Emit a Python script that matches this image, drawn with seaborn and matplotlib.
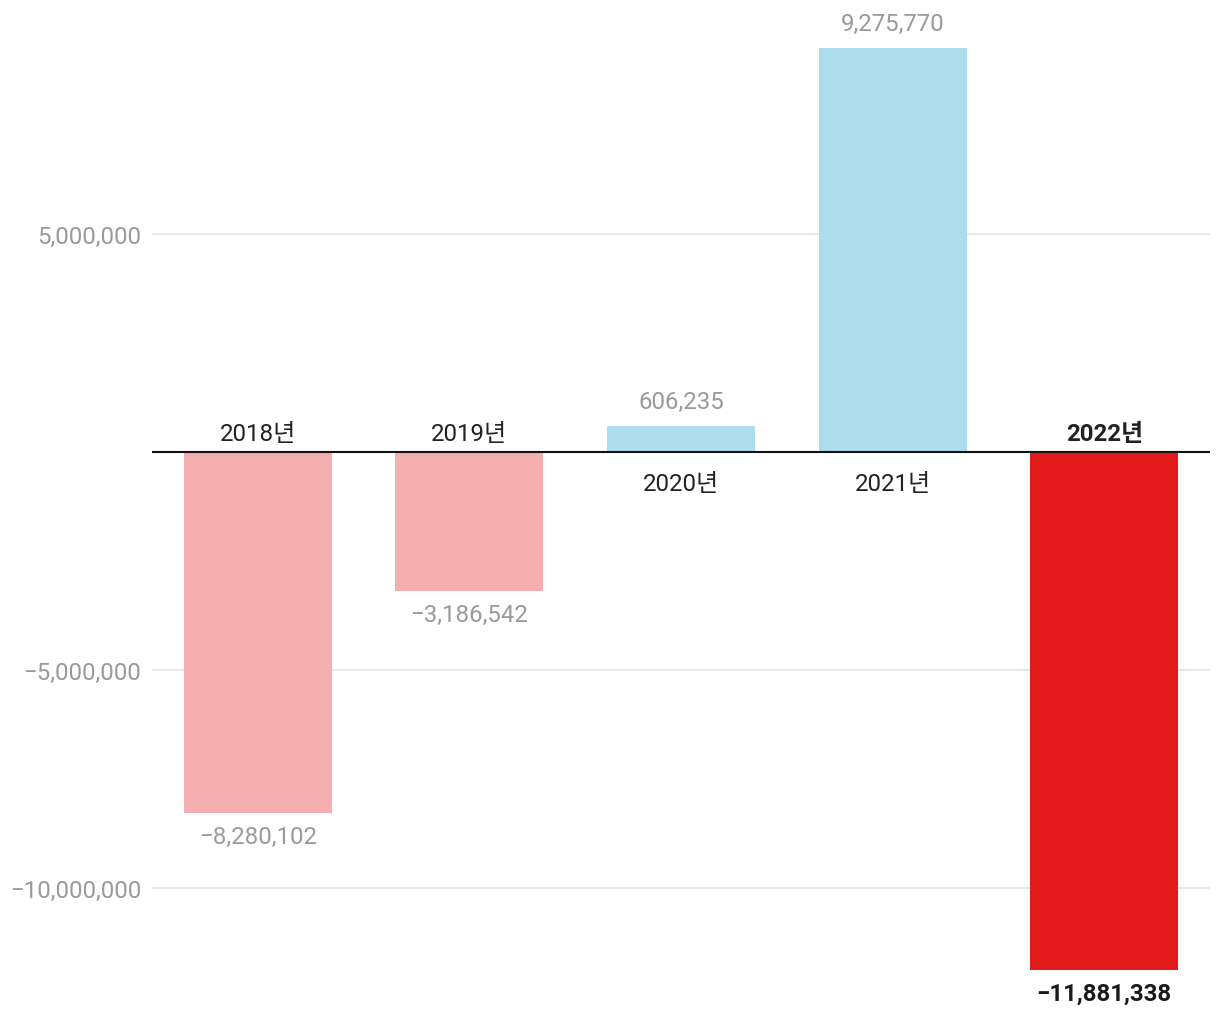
import matplotlib
matplotlib.use('Agg')
import matplotlib.pyplot as plt
import seaborn as sns
import pandas as pd

# data
years = ['2018년', '2019년', '2020년', '2021년', '2022년']
values = [-8280102, -3186542, 606235, 9275770, -11881338]
bar_colors = ['#f4aeb0', '#f4aeb0', '#addcec', '#addcec', '#e31a1c']
yticks = [-10000000, -5000000, 5000000]

sns.set_theme(style='white')
plt.rcParams['font.family'] = ['Roboto', 'Noto Sans CJK KR', 'DejaVu Sans']

df = pd.DataFrame({'year': years, 'value': values})
fs = 17.3

fig = plt.figure(figsize=(12.2, 10.2), dpi=100)
ax = fig.add_axes([152 / 1220, 0, 1058 / 1220, 1])

sns.barplot(data=df, x='year', y='value', hue='year', palette=bar_colors,
            legend=False, width=0.7, saturation=1, linewidth=0, ax=ax, zorder=2)

ax.set_xlim(-0.5, 4.5)
ax.set_ylim(-13005000, 10390000)

# grid + zero line
for t in yticks:
    ax.axhline(t, color='#e3e3e3', lw=1.2, zorder=1)
ax.axhline(0, color='#111111', lw=1.5, zorder=3)

ax.set_yticks(yticks)
ax.set_yticklabels([f'{t:,}'.replace('-', '−') for t in yticks],
                   color='#9a9a9a', fontsize=fs)
ax.tick_params(axis='y', length=0, pad=8)
ax.set_xticks([])
ax.set_xlabel('')
ax.set_ylabel('')
for s in ax.spines.values():
    s.set_visible(False)

# labels
for i, (yr, v) in enumerate(zip(years, values)):
    last = i == len(years) - 1
    weight = 'bold' if last else 'normal'
    val_color = '#1a1a1a' if last else '#9a9a9a'
    txt = f'{v:,}'.replace('-', '−')
    if v >= 0:
        ax.annotate(txt, (i, v), xytext=(0, 17.5), textcoords='offset points',
                    ha='center', va='center', fontsize=fs, color=val_color)
        ax.annotate(yr, (i, 0), xytext=(0, -23), textcoords='offset points',
                    ha='center', va='center', fontsize=fs, color='#222222',
                    fontweight=weight)
    else:
        ax.annotate(txt, (i, v), xytext=(0, -17), textcoords='offset points',
                    ha='center', va='center', fontsize=fs, color=val_color,
                    fontweight=weight)
        ax.annotate(yr, (i, 0), xytext=(0, 13), textcoords='offset points',
                    ha='center', va='center', fontsize=fs, color='#222222',
                    fontweight=weight)

fig.savefig('out.png', dpi=100)
